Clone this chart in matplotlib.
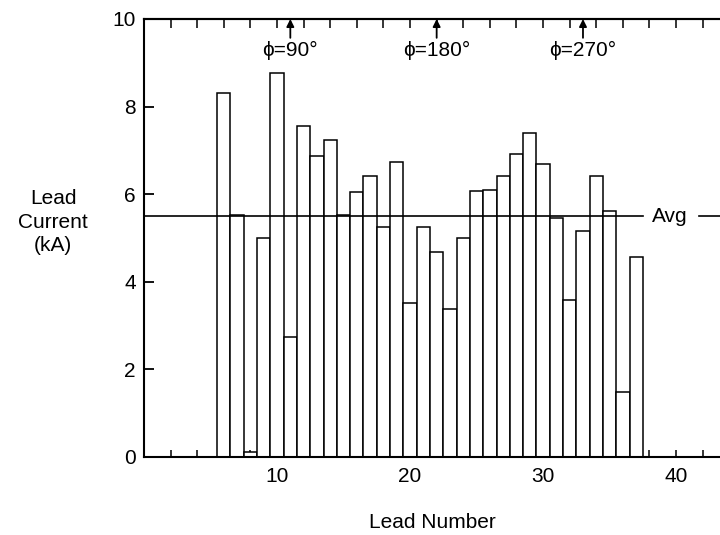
import numpy as np
import matplotlib
matplotlib.use("Agg")
import matplotlib.pyplot as plt
from matplotlib.ticker import FixedLocator, FuncFormatter

plt.rcParams['font.family'] = ['Liberation Sans', 'DejaVu Sans']

# Lead currents (kA) for leads 6..37
lead_numbers = list(range(6, 38))
lead_current = [8.30, 5.52, 0.12, 5.00, 8.77, 2.74, 7.56, 6.88, 7.24, 5.52,
                6.05, 6.42, 5.25, 6.73, 3.51, 5.24, 4.68, 3.38, 5.00, 6.07,
                6.09, 6.42, 6.91, 7.40, 6.68, 5.45, 3.58, 5.15, 6.42, 5.62,
                1.48, 4.56]

# Phase markers along the top edge
phase_leads = [11, 22, 33]
phase_labels = ["\u03d5=90°", "\u03d5=180°", "\u03d5=270°"]

avg_current = float(np.mean(lead_current))

fig = plt.figure(figsize=(7.2, 5.35), dpi=100)
ax = fig.add_axes([0.2, 0.1458, 0.8, 0.8187])

ax.bar(lead_numbers, lead_current, width=1.0, color="white",
       edgecolor="black", linewidth=1.1, zorder=2)

ax.set_xlim(0, 43.3)
ax.set_ylim(0, 10)

# Average line with inline label
ax.plot([0, 37.5], [avg_current, avg_current], color="black", lw=1.2, zorder=3)
ax.text(39.5, avg_current, "Avg", ha="center", va="center", fontsize=15, zorder=4)
ax.plot([41.7, 43.3], [avg_current, avg_current], color="black", lw=1.2,
        zorder=3, clip_on=False)

# Phase arrows and labels
for x, lab in zip(phase_leads, phase_labels):
    ax.annotate("", xy=(x, 10.0), xytext=(x, 9.57),
                arrowprops=dict(arrowstyle="-|>", color="black", lw=1.3,
                                mutation_scale=11, shrinkA=0, shrinkB=0))
    ax.text(x, 9.29, lab, ha="center", va="center", fontsize=15)

for side in ("right",):
    ax.spines[side].set_visible(False)
for side in ("left", "bottom", "top"):
    ax.spines[side].set_linewidth(1.5)

ax.yaxis.set_major_locator(FixedLocator([0, 2, 4, 6, 8, 10]))
ax.tick_params(axis="y", direction="in", length=7, width=1.3,
               labelsize=15, pad=6)

xt = list(range(2, 44, 2))
ax.xaxis.set_major_locator(FixedLocator(xt))
ax.xaxis.set_major_formatter(FuncFormatter(
    lambda v, p: f"{int(v)}" if int(v) % 10 == 0 else ""))
ax.tick_params(axis="x", direction="in", length=5, width=1.1,
               labelsize=15, pad=7)

top = ax.secondary_xaxis("top")
top.xaxis.set_major_locator(FixedLocator(xt))
top.tick_params(direction="in", length=6.5, width=1.1, labeltop=False)
top.spines["top"].set_linewidth(1.5)

ax.set_xlabel("Lead Number", fontsize=15, labelpad=20)
fig.text(53 / 720, 1 - 222 / 535, "Lead\nCurrent\n(kA)", ha="center",
         va="center", multialignment="center", fontsize=15, linespacing=1.3)

fig.savefig("out.png", dpi=100)
